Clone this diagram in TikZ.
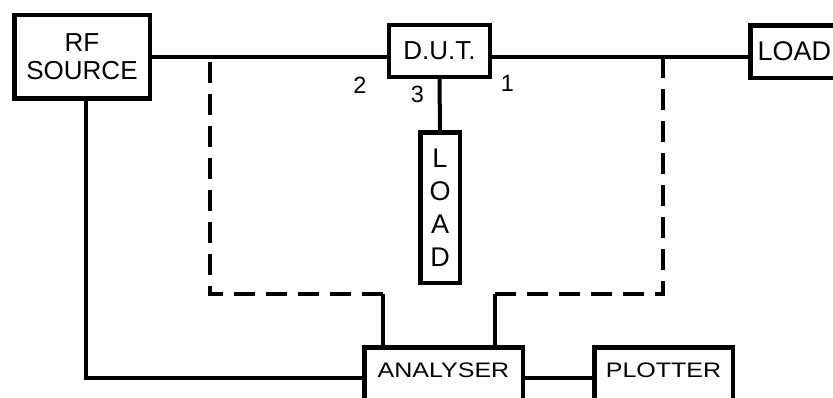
\documentclass[tikz,border=0pt]{standalone}
\usepackage{fontspec}
\setmainfont{Liberation Sans}
\usepackage{graphicx}
\begin{document}
\begin{tikzpicture}[x=1pt,y=-1pt,
  box/.style={draw, line width=4.5pt, inner sep=0pt, font=\fontsize{26}{28}\selectfont, align=center},
  wire/.style={line width=4pt},
  screen/.style={line width=4.5pt, dash pattern=on 21pt off 11pt},
  portlbl/.style={font=\fontsize{23.5}{23.5}\selectfont, inner sep=0pt}]
\useasboundingbox (0,0) rectangle (833,397);
\clip (0,0) rectangle (833,397);

\node[box, minimum width=135.5pt, minimum height=83.5pt] (rf) at (82,56.5) {RF\\SOURCE};
\node[box, line width=4pt, minimum width=101pt, minimum height=52pt] (dut) at (439.5,51) {D.U.T.};
\node[box, font=\fontsize{27}{28}\selectfont, anchor=west, inner xsep=7pt, text width=85pt, align=left, minimum height=52.5pt] (loadr) at (748.25,51.5) {LOAD};
\node[box, font=\fontsize{27}{33}\selectfont, minimum width=39.5pt, minimum height=150.5pt] (loadv) at (440,207.5) {L\\O\\A\\D};
\node[box, font=\fontsize{25}{28}\selectfont, anchor=base, minimum width=158.5pt, text height=29.75pt, text depth=32pt] (ana) at (443.5,377) {\scalebox{1}[0.84]{ANALYSER}};
\node[box, font=\fontsize{25}{28}\selectfont, anchor=base, minimum width=138.5pt, text height=29.75pt, text depth=32pt] (plot) at (663.5,377) {\scalebox{1}[0.84]{PLOTTER}};

\node[portlbl] (p2) at (360,85) {2};
\node[portlbl] (p3) at (417.5,94) {3};
\node[portlbl] (p1) at (507.5,83.5) {1};

\draw[wire] (rf.east) -- (rf.east -| dut.west);
\draw[wire] (dut.east |- rf.east) -- (loadr.west |- rf.east);
\draw[wire] (dut.south) -- (loadv.north);

\coordinate (tapL) at (210,58);
\coordinate (cornL) at (210,294);
\coordinate (dropL) at (383,294);
\coordinate (tapR) at (663,58);
\coordinate (cornR) at (663,294);
\coordinate (dropR) at (495,294);

\draw[screen] (dropL) -- (cornL) -- (tapL);
\draw[screen] (dropR) -- (cornR) -- (tapR);
\draw[wire] (dropL) -- (dropL |- ana.north);
\draw[wire] (dropR) -- (dropR |- ana.north);

\draw[wire] ([xshift=4pt]rf.south) |- (ana.west);
\draw[wire] (ana.east) -- (plot.west);
\end{tikzpicture}
\end{document}
